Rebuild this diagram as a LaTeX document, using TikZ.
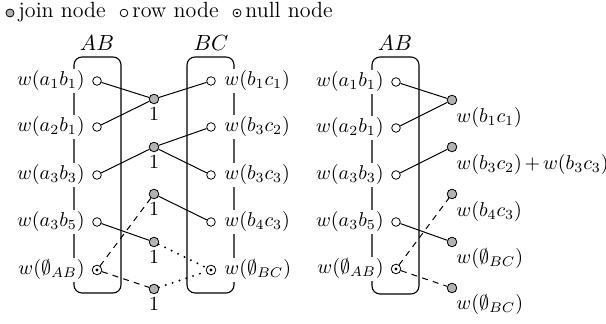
\documentclass[tikz,border=0pt]{standalone}
\begin{document}
\begin{tikzpicture}[x=0.5pt,y=-0.5pt,
  every node/.style={font=\fontsize{10}{12}\selectfont},
  joinnode/.style={circle,draw,fill=gray!60,minimum size=4.8pt,inner sep=0pt,line width=0.4pt},
  rownode/.style={circle,draw,fill=white,minimum size=4.3pt,inner sep=0pt,line width=0.4pt},
  nullnode/.style={circle,draw,fill=white,minimum size=4.8pt,inner sep=0pt,line width=0.4pt},
  lab/.style={fill=white,inner sep=1pt},
  one/.style={inner sep=0pt},
  legtext/.style={anchor=base west,inner sep=0pt,font=\fontsize{11}{13}\selectfont},
  boxline/.style={line width=0.55pt,rounded corners=4pt},
  conn/.style={line width=0.5pt},
  dashconn/.style={line width=0.5pt,dash pattern=on 3pt off 2.6pt},
  dotconn/.style={line width=1.1pt,dash pattern=on 0pt off 3.6pt,line cap=round}]
\useasboundingbox (0,0) rectangle (606,324);

% legend
\node[joinnode,minimum size=4pt] (lj) at (10,13) {};
\node[legtext] (ljt) at (18,18) {join node};
\node[rownode,minimum size=3.8pt] (lr) at (124,13) {};
\node[legtext] (lrt) at (132,18) {row node};
\node[nullnode,minimum size=4pt] (ln) at (237,13) {};
\fill (ln.center) circle (0.7pt);
\node[legtext] (lnt) at (245,18) {null node};

% boxes
\draw[boxline] (74,57) rectangle (121,293);
\draw[boxline] (187,57) rectangle (234,293);
\draw[boxline] (372,57) rectangle (419,294);

% headers
\node[font=\fontsize{11}{13}\selectfont] (hAB) at (97,43) {$AB$};
\node[font=\fontsize{11}{13}\selectfont] (hBC) at (211,43) {$BC$};
\node[font=\fontsize{11}{13}\selectfont] (hAB2) at (395,43) {$AB$};

% left diagram: AB rows
\node[rownode] (a1) at (97,81) {};
\node[rownode] (a2) at (97,127) {};
\node[rownode] (a3) at (97,175) {};
\node[rownode] (a4) at (97,222) {};
\node[nullnode] (nA) at (97,270) {};
\fill (nA.center) circle (0.8pt);
\node[lab,anchor=east] (la1) at (87,81) {$w(a_1b_1)$};
\node[lab,anchor=east] (la2) at (87,127) {$w(a_2b_1)$};
\node[lab,anchor=east] (la3) at (87,175) {$w(a_3b_3)$};
\node[lab,anchor=east] (la4) at (87,222) {$w(a_3b_5)$};
\node[lab,anchor=east] (lnA) at (87,270) {$w(\emptyset_{AB})$};

% BC rows
\node[rownode] (b1) at (211,81) {};
\node[rownode] (b2) at (211,127) {};
\node[rownode] (b3) at (211,175) {};
\node[rownode] (b4) at (211,222) {};
\node[nullnode] (nB) at (211,270) {};
\fill (nB.center) circle (0.8pt);
\node[lab,anchor=west] (lb1) at (222,81) {$w(b_1c_1)$};
\node[lab,anchor=west] (lb2) at (222,127) {$w(b_3c_2)$};
\node[lab,anchor=west] (lb3) at (222,175) {$w(b_3c_3)$};
\node[lab,anchor=west] (lb4) at (222,222) {$w(b_4c_3)$};
\node[lab,anchor=west] (lnB) at (222,270) {$w(\emptyset_{BC})$};

% join nodes
\node[joinnode] (j1) at (154,99) {};
\node[joinnode] (j2) at (154,147) {};
\node[joinnode] (j3) at (154,194) {};
\node[joinnode] (j4) at (154,242) {};
\node[joinnode] (j5) at (154,289) {};
\node[one] (o1) at (154,114) {1};
\node[one] (o2) at (154,162) {1};
\node[one] (o3) at (154,209) {1};
\node[one] (o4) at (154,257) {1};
\node[one] (o5) at (154,304) {1};

\draw[conn] (a1) -- (j1);
\draw[conn] (a2) -- (j1);
\draw[conn] (b1) -- (j1);
\draw[conn] (a3) -- (j2);
\draw[conn] (b2) -- (j2);
\draw[conn] (b3) -- (j2);
\draw[dashconn] (nA) -- (j3);
\draw[conn] (j3) -- (b4);
\draw[conn] (a4) -- (j4);
\draw[dotconn] (j4) -- (nB);
\draw[dashconn] (nA) -- (j5);
\draw[dotconn] (j5) -- (nB);

% right diagram
\node[rownode] (r1) at (396,82) {};
\node[rownode] (r2) at (396,128) {};
\node[rownode] (r3) at (396,175) {};
\node[rownode] (r4) at (396,222) {};
\node[nullnode] (rn) at (396,269) {};
\fill (rn.center) circle (0.8pt);
\node[lab,anchor=east] (lr1) at (386,82) {$w(a_1b_1)$};
\node[lab,anchor=east] (lr2) at (386,128) {$w(a_2b_1)$};
\node[lab,anchor=east] (lr3) at (386,175) {$w(a_3b_3)$};
\node[lab,anchor=east] (lr4) at (386,222) {$w(a_3b_5)$};
\node[lab,anchor=east] (lrn) at (386,269) {$w(\emptyset_{AB})$};

\node[joinnode] (k1) at (452,100) {};
\node[joinnode] (k2) at (452,147) {};
\node[joinnode] (k3) at (452,194) {};
\node[joinnode] (k4) at (452,242) {};
\node[joinnode] (k5) at (452,288) {};
\node[anchor=west,inner sep=0pt] (t1) at (456,118) {$w(b_1c_1)$};
\node[anchor=west,inner sep=0pt] (t2) at (456,165) {$w(b_3c_2)\mskip2.5mu{+}\mskip2.5mu w(b_3c_3)$};
\node[anchor=west,inner sep=0pt] (t3) at (456,212) {$w(b_4c_3)$};
\node[anchor=west,inner sep=0pt] (t4) at (456,259) {$w(\emptyset_{BC})$};
\node[anchor=west,inner sep=0pt] (t5) at (456,305) {$w(\emptyset_{BC})$};

\draw[conn] (r1) -- (k1);
\draw[conn] (r2) -- (k1);
\draw[conn] (r3) -- (k2);
\draw[dashconn] (rn) -- (k3);
\draw[conn] (r4) -- (k4);
\draw[dashconn] (rn) -- (k5);
\end{tikzpicture}
\end{document}
